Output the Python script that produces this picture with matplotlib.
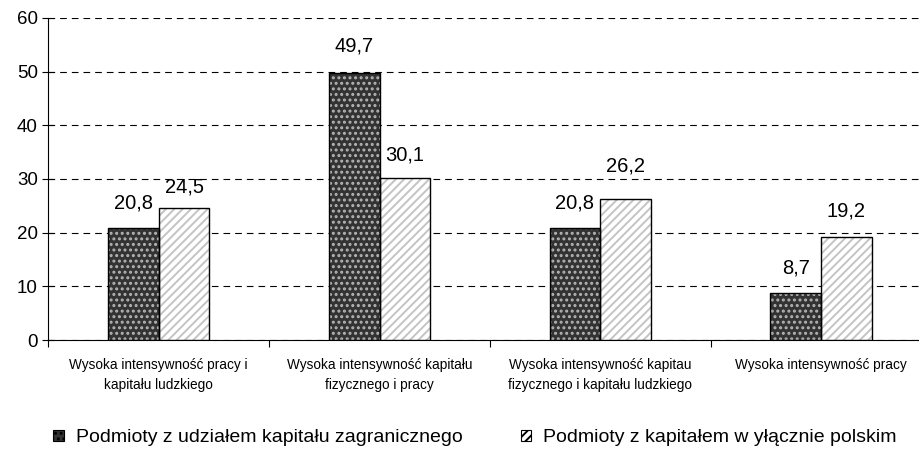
import matplotlib.pyplot as plt
import numpy as np
from matplotlib.patches import Patch

plt.rcParams['font.family'] = ['Liberation Sans', 'DejaVu Sans']
plt.rcParams['hatch.linewidth'] = 1.4

# Dane
kategorie = ['Wysoka intensywność pracy i\nkapitału ludzkiego',
             'Wysoka intensywność kapitału\nfizycznego i pracy',
             'Wysoka intensywność kapitau\nfizycznego i kapitału ludzkiego',
             'Wysoka intensywność pracy']
zagraniczne = [20.8, 49.7, 20.8, 8.7]
polskie = [24.5, 30.1, 26.2, 19.2]
etykiety_serii = ['Podmioty z udziałem kapitału zagranicznego',
                  'Podmioty z kapitałem w yłącznie polskim']

# przesunięcia etykiet wartości (punkty) - jak w oryginale
off_zag = [18, 19.5, 18, 18]
off_pol = [15.5, 16.5, 24, 18.5]

def fmt(v):
    return f'{v:.1f}'.replace('.', ',')

fig = plt.figure(figsize=(9.2, 4.57), dpi=100)
ax = fig.add_axes([0.0525, 0.256, 0.96, 0.705])

x = np.arange(len(kategorie))
w = 0.23

# seria 1: ciemne tło z jasnymi kropkami
ax.bar(x - w/2, zagraniczne, w, color='#333333', hatch='...', edgecolor='#b5b5b5',
       linewidth=0, zorder=3)
ax.bar(x - w/2, zagraniczne, w, fill=False, edgecolor='black', linewidth=1, zorder=4)
# seria 2: jasne ukośne paski
ax.bar(x + w/2, polskie, w, color='white', hatch='////', edgecolor='#c4c4c4',
       linewidth=0, zorder=3)
ax.bar(x + w/2, polskie, w, fill=False, edgecolor='black', linewidth=1, zorder=4)

for xi, v, o in zip(x - w/2, zagraniczne, off_zag):
    ax.annotate(fmt(v), (xi, v), xytext=(0, o), textcoords='offset points',
                ha='center', va='center', fontsize=14.5)
for xi, v, o in zip(x + w/2, polskie, off_pol):
    ax.annotate(fmt(v), (xi, v), xytext=(0, o), textcoords='offset points',
                ha='center', va='center', fontsize=14.5)

ax.set_xlim(-0.5, len(kategorie) - 0.5)
ax.set_ylim(0, 60)
ax.set_yticks(range(0, 61, 10))
ax.tick_params(axis='y', labelsize=13.5, length=9, direction='inout', pad=3)
ax.yaxis.grid(True, linestyle=(0, (6, 4.5)), color='black', linewidth=0.8, zorder=0)
ax.set_axisbelow(True)

ax.set_xticks(np.arange(len(kategorie) + 1) - 0.5)
ax.set_xticklabels([])
ax.tick_params(axis='x', length=5, direction='out')
for xi, lab in zip(x, kategorie):
    ax.text(xi, -0.055, lab, transform=ax.get_xaxis_transform(), ha='center',
            va='top', fontsize=9.8, linespacing=1.55)

for s in ['top', 'right']:
    ax.spines[s].set_visible(False)

uchwyty = [Patch(facecolor='#333333', hatch='...', edgecolor='#b5b5b5'),
           Patch(facecolor='white', hatch='////', edgecolor='#999999')]
leg = fig.legend(uchwyty, etykiety_serii, loc='center left', bbox_to_anchor=(0.058, 0.042),
                 ncol=2, frameon=False, fontsize=14, handlelength=0.55, handleheight=0.55,
                 handletextpad=0.6, columnspacing=3.0, borderaxespad=0, borderpad=0)
for p in leg.get_patches():
    p.set_linewidth(0.8)
    p.set_edgecolor('black')

fig.savefig('out.png', dpi=100, facecolor='white')
